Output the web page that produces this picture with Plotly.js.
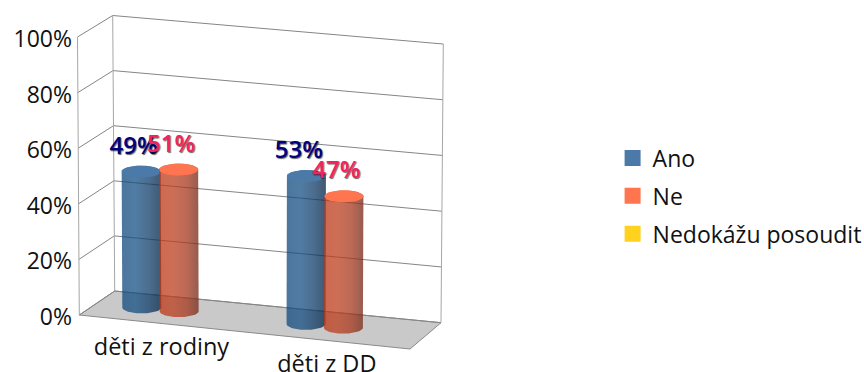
<!DOCTYPE html>
<html>
<head>
<meta charset="utf-8">
<script src="https://cdn.plot.ly/plotly-3.0.1.min.js"></script>
<style>html,body{margin:0;padding:0;background:#fff}#chart{width:864px;height:372px}</style>
</head>
<body>
<div id="chart"></div>
<script>
// Survey results by group of children, in percent
const categories = ['děti z rodiny', 'děti z DD'];
const seriesNames = ['Ano', 'Ne', 'Nedokážu posoudit'];
const ano = [49, 53];
const ne = [51, 47];
const nedokazu = [null, null];
const tickValues = [0, 20, 40, 60, 80, 100];

const FONT = '"Open Sans", sans-serif';
const PX_PER_UNIT = 2.78;     // screen pixels per percentage point on the value axis
const ZERO_PX = 315;          // screen row of the 0% tick

// Box corners used for the oblique 3D look: [front-left, back-left, back-right, front-right]
const floorBox = [[79.3, 315], [114.7, 291], [441, 322.7], [410, 349]];
const topBox = [[77.5, 37], [112.7, 15.5], [443.3, 44], [412, 67]];

const toAxis = row => (ZERO_PX - row) / PX_PER_UNIT;
const mix = (a, b, t) => [a[0] + (b[0] - a[0]) * t, a[1] + (b[1] - a[1]) * t];

// u: along the category direction, d: depth, v: value in percent
function project(u, d, v) {
  const onFace = box => mix(mix(box[0], box[3], u), mix(box[1], box[2], u), d);
  return mix(onFace(floorBox), onFace(topBox), v / 100);
}

function polyline(points, color, width) {
  return {
    x: points.map(p => p[0]), y: points.map(p => toAxis(p[1])),
    mode: 'lines', line: {color: color, width: width},
    showlegend: false, hoverinfo: 'skip', cliponaxis: false
  };
}

function filled(points, extra) {
  return Object.assign({
    x: points.map(p => p[0]), y: points.map(p => toAxis(p[1])),
    mode: 'lines', fill: 'toself', line: {width: 0},
    showlegend: false, hoverinfo: 'skip'
  }, extra);
}

const traces = [];

// Floor
const floorPts = [project(0, 0, 0), project(0, 1, 0), project(1, 1, 0), project(1, 0, 0), project(0, 0, 0)];
traces.push(filled(floorPts, {fillcolor: '#c9c9c9'}));
traces.push(polyline(floorPts, '#8a8a8a', 1));

// Gridlines running along the side and back walls
tickValues.forEach(v => {
  traces.push(polyline([project(0, 0, v), project(0, 1, v), project(1, 1, v)], '#858585', 1));
});
// Wall verticals
traces.push(polyline([project(0, 0, 0), project(0, 0, 100)], '#a6a6a6', 1));
traces.push(polyline([project(0, 1, 0), project(0, 1, 100)], '#a6a6a6', 1));
traces.push(polyline([project(1, 1, 0), project(1, 1, 100)], '#a6a6a6', 1));

// Cylinders
const RX = 19.5, RY = 6, STEPS = 36;
const styles = [
  {
    cap: '#4b7aa9',
    body: [[0, 'rgba(16,72,125,0.75)'], [0.35, 'rgba(22,80,132,0.75)'], [0.7, 'rgba(16,60,104,0.75)'], [1, 'rgba(8,41,75,0.78)']]
  },
  {
    cap: '#ff7550',
    body: [[0, 'rgba(190,55,22,0.75)'], [0.35, 'rgba(188,62,30,0.75)'], [0.7, 'rgba(165,55,30,0.75)'], [1, 'rgba(120,46,28,0.78)']]
  }
];

function arc(center, from, to) {
  const pts = [];
  for (let i = 0; i <= STEPS; i++) {
    const a = from + (to - from) * i / STEPS;
    pts.push([center[0] + RX * Math.cos(a), center[1] + RY * Math.sin(a)]);
  }
  return pts;
}

const labelX = [], labelY = [], labelText = [], labelColor = [];
const labelColors = ['#000080', '#f5225f'];

[ano, ne, nedokazu].forEach((values, s) => {
  values.forEach((val, c) => {
    if (val === null) return;
    const u = 0.25 + c * 0.5 + (s - 1) * 0.1136;
    const base = project(u, 0.5, 0);
    const top = project(u, 0.5, val);
    // Body outline: lower half of the base ellipse, then back over the top ellipse
    const body = arc(base, Math.PI, 0).concat(arc(top, 0, -Math.PI));
    traces.push(filled(body.concat([body[0]]), {
      fillgradient: {type: 'horizontal', colorscale: styles[s].body}
    }));
    traces.push(filled(arc(top, 0, 2 * Math.PI), {fillcolor: styles[s].cap}));
    labelX.push(top[0] - 7.5);
    labelY.push(toAxis(top[1] - 24));
    labelText.push(val + '%');
    labelColor.push(labelColors[s]);
  });
});

// Value labels above each cylinder
traces.push({
  x: labelX, y: labelY, text: labelText, mode: 'text', textposition: 'middle center',
  textfont: {family: FONT, size: 24, color: labelColor, weight: 600, shadow: '1px 1px 1px rgba(0,0,0,0.6)'},
  showlegend: false, hoverinfo: 'skip', cliponaxis: false
});

// Category labels below the front edge of the floor
const catPts = categories.map((_, c) => project(0.25 + c * 0.5, 0, 0));
traces.push({
  x: catPts.map(p => p[0] - 0.5), y: catPts.map(p => toAxis(p[1] + 25.5)),
  text: categories, mode: 'text', textposition: 'middle center',
  textfont: {family: FONT, size: 23.5, color: '#111111'},
  showlegend: false, hoverinfo: 'skip', cliponaxis: false
});

// Legend entries
const swatches = ['#4b7aa9', '#ff7550', '#ffd21f'];
seriesNames.forEach((name, i) => {
  traces.push({
    x: [null], y: [null], name: name, mode: 'markers', legendgroup: 'g' + i,
    marker: {symbol: 'square', size: 16, color: swatches[i]}, hoverinfo: 'skip'
  });
});

const layout = {
  width: 864, height: 372,
  margin: {l: 73, r: 304, t: 0, b: 0, autoexpand: false},
  paper_bgcolor: '#ffffff', plot_bgcolor: '#ffffff',
  hovermode: false,
  xaxis: {range: [73, 560], visible: false, fixedrange: true},
  yaxis: {
    range: [toAxis(372), toAxis(0)],
    tickvals: tickValues, ticktext: tickValues.map(v => v + '%'),
    showgrid: false, zeroline: false, showline: false, ticks: '',
    ticklabelshift: 2,
    tickfont: {family: FONT, size: 23, color: '#111111'}, fixedrange: true
  },
  showlegend: true,
  legend: {
    x: 1.108, y: 0.633, xanchor: 'left', yanchor: 'top', xref: 'paper', yref: 'paper',
    traceorder: 'grouped', tracegroupgap: 5, itemclick: false, itemdoubleclick: false,
    bgcolor: 'rgba(0,0,0,0)', font: {family: FONT, size: 23, color: '#111111'}
  }
};

Plotly.newPlot('chart', traces, layout, {displayModeBar: false, responsive: false});
</script>
</body>
</html>
